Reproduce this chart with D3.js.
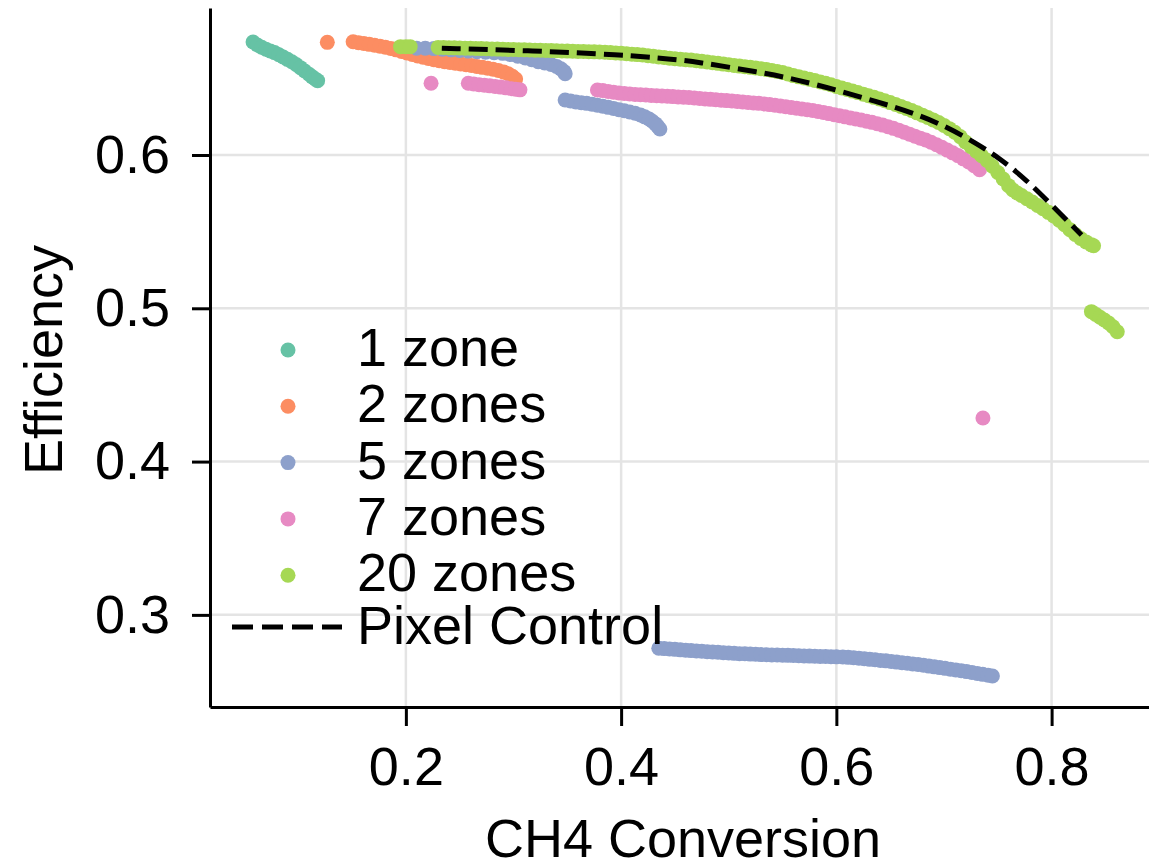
<!DOCTYPE html>
<html>
<head>
<meta charset="utf-8">
<script src="https://cdn.jsdelivr.net/npm/d3@7"></script>
<style>
  body { margin: 0; background: #fff; }
  text { font-family: "Liberation Sans", Arial, sans-serif; }
</style>
</head>
<body>
<div class="chart"></div>
<script>
// Data
var xTicks = [0.2, 0.4, 0.6, 0.8];
var yTicks = [0.3, 0.4, 0.5, 0.6];

var zone1X = [0.058,0.062,0.066,0.070,0.074,0.078,0.082,0.086,0.090,0.094,0.098,0.102,0.106,0.110,0.113,0.116,0.118];
var zone1Y = [0.6737,0.6718,0.6703,0.6690,0.6679,0.6668,0.6654,0.6639,0.6624,0.6608,0.6590,0.6570,0.6548,0.6527,0.6510,0.6495,0.6485];

var zone2X = [0.127,
  0.151,0.156,0.161,0.166,0.171,0.176,0.181,0.186,0.191,0.196,0.201,0.206,0.211,0.216,0.221,0.226,0.231,0.236,0.241,0.246,
  0.251,0.256,0.261,0.266,0.271,0.276,0.281,0.286,0.291,0.295,0.299,0.302];
var zone2Y = [0.6735,
  0.6739,0.6733,0.6728,0.6722,0.6716,0.6710,0.6703,0.6695,0.6686,0.6676,0.6666,0.6656,0.6646,0.6638,0.6630,0.6622,0.6615,0.6609,0.6604,0.6599,
  0.6594,0.6589,0.6584,0.6578,0.6572,0.6566,0.6559,0.6551,0.6541,0.6530,0.6514,0.6496];

var zone5X = [0.210,0.218,0.226,0.234,0.242,0.250,0.258,0.266,0.274,0.282,0.290,0.297,0.304,0.311,0.317,0.323,0.329,0.335,0.340,0.344,0.347,0.348,
  0.348,0.353,0.358,0.363,0.368,0.373,0.378,0.383,0.388,0.393,0.398,0.403,0.408,0.413,0.418,0.422,0.426,0.429,0.432,0.434,0.436,
  0.435,0.440,0.445,0.450,0.455,0.460,0.465,0.470,0.475,0.480,0.485,0.490,0.495,0.500,0.505,0.510,0.515,0.520,0.525,0.530,
  0.535,0.540,0.545,0.550,0.555,0.560,0.565,0.570,0.575,0.580,0.585,0.590,0.595,0.600,0.606,0.611,0.616,0.621,0.626,0.631,
  0.636,0.641,0.646,0.651,0.656,0.661,0.666,0.671,0.676,0.681,0.686,0.691,0.696,0.701,0.706,0.711,0.716,0.721,0.726,0.731,
  0.736,0.741,0.745];
var zone5Y = [0.6696,0.6696,0.6694,0.6690,0.6686,0.6682,0.6678,0.6674,0.6670,0.6667,0.6663,0.6655,0.6645,0.6633,0.6621,0.6609,0.6600,0.6590,0.6578,0.6562,0.6545,0.6530,
  0.6359,0.6352,0.6346,0.6341,0.6337,0.6331,0.6325,0.6318,0.6311,0.6304,0.6296,0.6289,0.6281,0.6272,0.6261,0.6249,0.6235,0.6220,0.6203,0.6187,0.6170,
  0.2782,0.2780,0.2777,0.2775,0.2772,0.2770,0.2767,0.2765,0.2763,0.2760,0.2758,0.2756,0.2753,0.2751,0.2749,0.2747,0.2746,0.2744,0.2743,0.2741,
  0.2740,0.2739,0.2738,0.2737,0.2736,0.2735,0.2733,0.2732,0.2731,0.2730,0.2729,0.2728,0.2727,0.2726,0.2725,0.2723,0.2720,0.2717,0.2714,0.2710,
  0.2707,0.2703,0.2700,0.2696,0.2692,0.2688,0.2684,0.2680,0.2676,0.2671,0.2666,0.2661,0.2656,0.2651,0.2646,0.2641,0.2636,0.2630,0.2624,0.2618,
  0.2612,0.2606,0.2601];

var zone7X = [0.2234,
  0.258,0.263,0.268,0.273,0.278,0.283,0.288,0.293,0.298,0.302,0.306,
  0.378,0.383,0.388,0.393,0.398,0.403,0.408,0.413,0.418,0.423,0.428,0.433,0.438,0.443,0.448,0.453,0.458,0.463,0.468,0.473,
  0.478,0.483,0.488,0.493,0.498,0.503,0.508,0.513,0.518,0.523,0.528,0.533,0.538,0.543,0.548,0.553,0.558,0.563,0.568,0.573,
  0.578,0.583,0.588,0.593,0.598,0.603,0.608,0.613,0.618,0.623,0.628,0.633,0.638,0.643,0.648,0.653,0.658,0.663,0.668,0.673,
  0.678,0.683,0.688,0.693,0.698,0.703,0.708,0.713,0.718,0.723,0.728,0.733,
  0.7362];
var zone7Y = [0.6468,
  0.6468,0.6463,0.6459,0.6455,0.6451,0.6447,0.6443,0.6438,0.6433,0.6429,0.6425,
  0.6424,0.6420,0.6415,0.6410,0.6405,0.6401,0.6398,0.6395,0.6393,0.6391,0.6389,0.6387,0.6385,0.6383,0.6381,0.6379,0.6377,0.6375,0.6372,0.6369,
  0.6366,0.6363,0.6361,0.6358,0.6355,0.6352,0.6349,0.6346,0.6343,0.6340,0.6337,0.6333,0.6329,0.6325,0.6320,0.6315,0.6310,0.6305,0.6300,0.6295,
  0.6290,0.6284,0.6277,0.6270,0.6263,0.6256,0.6249,0.6242,0.6235,0.6228,0.6221,0.6213,0.6204,0.6195,0.6185,0.6174,0.6162,0.6149,0.6136,0.6123,
  0.6110,0.6098,0.6083,0.6067,0.6050,0.6032,0.6014,0.5996,0.5975,0.5955,0.5930,0.5904,
  0.4284];

var zone20X = [0.195,0.200,0.204,
  0.230,0.235,0.240,0.245,0.250,0.255,0.260,0.265,0.270,0.275,0.280,0.285,0.290,0.295,0.300,0.305,0.310,0.315,0.320,0.325,
  0.330,0.335,0.340,0.345,0.350,0.355,0.360,0.365,0.370,0.375,0.380,0.385,0.390,0.395,0.400,0.405,0.410,0.415,0.420,0.425,
  0.430,0.435,0.440,0.445,0.450,0.455,0.460,0.465,0.470,0.475,0.480,0.485,0.490,0.495,0.500,0.505,0.510,0.515,0.520,0.525,
  0.530,0.535,0.540,0.545,0.550,0.555,0.560,0.565,0.570,0.575,0.580,0.585,0.590,0.595,0.600,0.605,0.610,0.615,0.620,0.625,
  0.630,0.635,0.640,0.645,0.650,0.655,0.660,0.665,0.670,0.675,0.680,0.685,0.690,0.695,0.700,0.705,0.710,0.715,0.720,0.725,
  0.730,0.735,0.740,0.745,0.750,0.755,0.760,0.764,0.768,0.772,0.777,0.782,0.787,0.792,0.797,0.802,0.807,0.812,0.817,0.822,
  0.827,0.832,0.837,0.839,
  0.837,0.841,0.845,0.849,0.853,0.857,0.861];
var zone20Y = [0.6707,0.6707,0.6707,
  0.6702,0.6701,0.6700,0.6699,0.6698,0.6697,0.6696,0.6695,0.6694,0.6693,0.6692,0.6691,0.6690,0.6689,0.6688,0.6687,0.6686,0.6685,0.6684,0.6683,
  0.6682,0.6681,0.6680,0.6679,0.6678,0.6677,0.6676,0.6675,0.6674,0.6673,0.6672,0.6670,0.6668,0.6666,0.6664,0.6661,0.6658,0.6655,0.6652,0.6648,
  0.6644,0.6640,0.6636,0.6632,0.6628,0.6625,0.6622,0.6619,0.6615,0.6611,0.6607,0.6602,0.6598,0.6593,0.6589,0.6584,0.6580,0.6576,0.6572,0.6568,
  0.6563,0.6557,0.6551,0.6545,0.6538,0.6528,0.6518,0.6510,0.6502,0.6494,0.6486,0.6477,0.6468,0.6458,0.6447,0.6437,0.6427,0.6417,0.6407,0.6397,
  0.6387,0.6376,0.6365,0.6354,0.6342,0.6330,0.6317,0.6304,0.6290,0.6275,0.6260,0.6245,0.6229,0.6212,0.6193,0.6172,0.6148,0.6120,0.6085,0.6055,
  0.6025,0.5995,0.5965,0.5927,0.5886,0.5843,0.5800,0.5772,0.5752,0.5736,0.5715,0.5693,0.5671,0.5649,0.5626,0.5602,0.5575,0.5545,0.5513,0.5482,
  0.5455,0.5433,0.5414,0.5408,
  0.4978,0.4960,0.4942,0.4924,0.4904,0.4880,0.4847];

var pixelX = [0.2334,0.3185,0.3989,0.4485,0.4682,0.5290,0.5600,0.6003,0.6374,0.6684,0.6993,0.7303,0.7519,0.7767,0.7984,0.8139,0.8278];
var pixelY = [0.6696,0.6680,0.6655,0.6624,0.6610,0.6540,0.6497,0.6424,0.6348,0.6282,0.6196,0.6076,0.5978,0.5837,0.5685,0.5576,0.5478];

var seriesNames = ["1 zone", "2 zones", "5 zones", "7 zones", "20 zones"];
var seriesColors = ["#66c2a5", "#fc8d62", "#8da0cb", "#e78ac3", "#a6d854"];
var seriesX = [zone1X, zone2X, zone5X, zone7X, zone20X];
var seriesY = [zone1Y, zone2Y, zone5Y, zone7Y, zone20Y];

var svgWidth = 1149;
var svgHeight = 863;
var fontSize = 54;

var svg = d3.select(".chart")
  .append("svg")
  .attr("width", svgWidth)
  .attr("height", svgHeight);

var xScale = d3.scaleLinear()
  .domain([0.018, 0.897])
  .range([210, 1156]);

var yScale = d3.scaleLinear()
  .domain([0.2399, 0.6959])
  .range([707, 8]);

// grid
var grid = svg.append("g");
grid.selectAll(".vgrid")
  .data(xTicks)
  .enter()
  .append("line")
  .attr("x1", d => xScale(d))
  .attr("x2", d => xScale(d))
  .attr("y1", yScale.range()[0])
  .attr("y2", yScale.range()[1])
  .attr("stroke", "#e4e4e4")
  .attr("stroke-width", 2.5);
grid.selectAll(".hgrid")
  .data(yTicks)
  .enter()
  .append("line")
  .attr("x1", xScale.range()[0])
  .attr("x2", xScale.range()[1])
  .attr("y1", d => yScale(d))
  .attr("y2", d => yScale(d))
  .attr("stroke", "#e4e4e4")
  .attr("stroke-width", 2.5);

// points
seriesX.forEach(function (xs, i) {
  var pts = xs.map((x, j) => ({x: x, y: seriesY[i][j]}));
  svg.append("g")
    .selectAll("circle")
    .data(pts)
    .enter()
    .append("circle")
    .attr("cx", d => xScale(d.x))
    .attr("cy", d => yScale(d.y))
    .attr("r", 7.5)
    .attr("fill", seriesColors[i]);
});

// pixel control line
var pixelPts = pixelX.map((x, j) => ({x: x, y: pixelY[j]}));
var line = d3.line()
  .x(d => xScale(d.x))
  .y(d => yScale(d.y))
  .curve(d3.curveBasis);
svg.append("path")
  .datum(pixelPts)
  .attr("d", line)
  .attr("fill", "none")
  .attr("stroke", "#000")
  .attr("stroke-width", 5)
  .attr("stroke-dasharray", "19,8");

// axes
var bottomAxis = d3.axisBottom(xScale)
  .tickValues(xTicks)
  .tickFormat(d3.format(".1f"))
  .tickSize(19)
  .tickSizeOuter(0)
  .tickPadding(21);
var leftAxis = d3.axisLeft(yScale)
  .tickValues(yTicks)
  .tickFormat(d3.format(".1f"))
  .tickSize(18)
  .tickSizeOuter(0)
  .tickPadding(22);

var xAxisG = svg.append("g")
  .attr("transform", `translate(0, ${yScale.range()[0]})`)
  .call(bottomAxis);
var yAxisG = svg.append("g")
  .attr("transform", `translate(${xScale.range()[0]}, 0)`)
  .call(leftAxis);

[xAxisG, yAxisG].forEach(function (g) {
  g.select(".domain").attr("stroke", "#000").attr("stroke-width", 3);
  g.selectAll(".tick line").attr("stroke", "#000").attr("stroke-width", 3);
  g.selectAll(".tick text")
    .attr("fill", "#000")
    .style("font-family", "'Liberation Sans', Arial, sans-serif")
    .style("font-size", fontSize + "px");
});

// axis labels
svg.append("text")
  .attr("x", 683)
  .attr("y", 857)
  .attr("text-anchor", "middle")
  .style("font-size", fontSize + "px")
  .text("CH4 Conversion");

svg.append("text")
  .attr("transform", "translate(62, 360) rotate(-90)")
  .attr("text-anchor", "middle")
  .style("font-size", fontSize + "px")
  .text("Efficiency");

// legend
var legend = svg.append("g");
seriesNames.forEach(function (name, i) {
  var ly = 350 + i * 56.3;
  legend.append("circle")
    .attr("cx", 288)
    .attr("cy", ly)
    .attr("r", 7.5)
    .attr("fill", seriesColors[i]);
  legend.append("text")
    .attr("x", 357)
    .attr("y", ly + 16)
    .style("font-size", fontSize + "px")
    .text(name);
});
var pcY = 627;
legend.append("line")
  .attr("x1", 232)
  .attr("x2", 342)
  .attr("y1", pcY)
  .attr("y2", pcY)
  .attr("stroke", "#000")
  .attr("stroke-width", 5)
  .attr("stroke-dasharray", "21,9");
legend.append("text")
  .attr("x", 357)
  .attr("y", pcY + 17)
  .style("font-size", fontSize + "px")
  .text("Pixel Control");
</script>
</body>
</html>
